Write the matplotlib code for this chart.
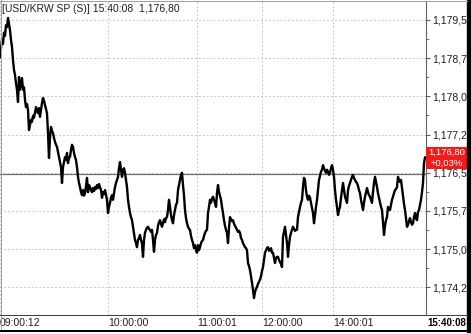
import matplotlib
matplotlib.use("Agg")
import matplotlib.pyplot as plt
import matplotlib.transforms as mtransforms
from matplotlib.lines import Line2D
from matplotlib.patches import Rectangle

plt.rcParams["font.family"] = ["Liberation Sans", "DejaVu Sans"]
plt.rcParams["font.size"] = 7.5

W, H = 471, 334

# tick-by-tick price, one value per chart column
price = [
    1178.77, 1178.95, 1179.11, 1179.03, 1179.25, 1179.19, 1179.40, 1179.36, 1179.54, 1179.42,
    1179.30, 1179.11, 1178.97, 1178.71, 1178.52, 1178.42, 1178.26, 1178.13, 1177.89, 1178.38,
    1178.13, 1178.24, 1178.36, 1178.13, 1178.18, 1177.93, 1177.79, 1177.85, 1177.73, 1177.34,
    1177.44, 1177.54, 1177.50, 1177.62, 1177.58, 1177.69, 1177.79, 1177.71, 1177.67, 1177.77,
    1177.60, 1177.73, 1177.87, 1177.97, 1177.91, 1177.83, 1177.75, 1177.67, 1177.28, 1176.79,
    1177.20, 1177.40, 1177.32, 1177.28, 1177.18, 1177.11, 1177.05, 1177.01, 1176.91, 1176.81,
    1176.71, 1176.61, 1176.30, 1176.61, 1176.71, 1176.81, 1176.75, 1176.89, 1176.69, 1176.79,
    1176.81, 1176.95, 1177.05, 1177.01, 1176.89, 1176.81, 1176.75, 1176.61, 1176.42, 1176.30,
    1176.22, 1176.12, 1176.06, 1176.16, 1176.05, 1176.10, 1176.24, 1176.40, 1176.12, 1176.26,
    1176.22, 1176.16, 1176.12, 1176.20, 1176.14, 1176.22, 1176.18, 1176.26, 1176.20, 1176.28,
    1176.22, 1176.16, 1176.01, 1176.12, 1176.08, 1176.16, 1176.06, 1175.97, 1175.71, 1175.83,
    1175.91, 1176.01, 1176.06, 1175.97, 1176.10, 1176.22, 1176.30, 1176.36, 1176.42, 1176.59,
    1176.71, 1176.56, 1176.42, 1176.56, 1176.59, 1176.50, 1176.36, 1176.22, 1175.97, 1175.83,
    1175.71, 1175.63, 1175.57, 1175.44, 1175.32, 1175.18, 1175.12, 1175.04, 1175.18, 1175.22,
    1175.28, 1175.18, 1175.12, 1174.85, 1175.18, 1175.32, 1175.38, 1175.42, 1175.44, 1175.40,
    1175.38, 1175.34, 1175.38, 1175.18, 1174.95, 1175.18, 1175.28, 1175.32, 1175.46, 1175.53,
    1175.57, 1175.50, 1175.44, 1175.51, 1175.59, 1175.53, 1175.61, 1175.63, 1175.77, 1175.97,
    1175.83, 1175.67, 1175.57, 1175.51, 1175.67, 1175.77, 1175.87, 1175.91, 1176.16, 1176.26,
    1176.36, 1176.46, 1176.50, 1176.26, 1176.06, 1175.77, 1175.61, 1175.51, 1175.44, 1175.40,
    1175.38, 1175.26, 1175.18, 1175.12, 1175.02, 1175.08, 1174.98, 1174.93, 1175.08, 1174.98,
    1175.04, 1175.12, 1175.16, 1175.18, 1175.26, 1175.32, 1175.36, 1175.38, 1175.71, 1175.83,
    1175.97, 1175.91, 1175.99, 1176.03, 1175.97, 1175.91, 1175.83, 1176.10, 1176.26, 1176.12,
    1176.05, 1175.97, 1175.83, 1175.71, 1175.57, 1175.46, 1175.38, 1175.32, 1175.12, 1175.42,
    1175.63, 1175.59, 1175.55, 1175.57, 1175.50, 1175.46, 1175.42, 1175.38, 1175.34, 1175.36,
    1175.32, 1175.22, 1175.18, 1175.12, 1175.08, 1175.04, 1175.02, 1174.98, 1174.73, 1174.67,
    1174.59, 1174.47, 1174.34, 1174.20, 1174.04, 1174.16, 1174.22, 1174.26, 1174.32, 1174.36,
    1174.40, 1174.47, 1174.57, 1174.65, 1174.79, 1174.93, 1174.98, 1175.02, 1175.04, 1174.97,
    1174.98, 1175.02, 1174.93, 1174.93, 1174.83, 1174.73, 1174.83, 1174.85, 1174.85, 1174.79,
    1174.75, 1174.71, 1174.65, 1175.24, 1175.34, 1175.44, 1175.28, 1175.12, 1174.85, 1175.08,
    1175.24, 1175.32, 1175.38, 1175.44, 1175.40, 1175.36, 1175.38, 1175.38, 1175.63, 1175.73,
    1175.83, 1175.91, 1175.97, 1176.22, 1176.40, 1176.36, 1176.16, 1176.03, 1175.97, 1176.05,
    1176.01, 1175.91, 1175.81, 1175.71, 1175.51, 1175.67, 1175.83, 1175.97, 1176.16, 1176.36,
    1176.44, 1176.52, 1176.56, 1176.65, 1176.59, 1176.54, 1176.50, 1176.56, 1176.52, 1176.46,
    1176.50, 1176.59, 1176.65, 1176.56, 1176.42, 1176.16, 1175.97, 1175.83, 1175.67, 1175.77,
    1175.83, 1176.01, 1176.16, 1176.30, 1176.16, 1176.03, 1175.97, 1175.91, 1176.16, 1176.24,
    1176.30, 1176.36, 1176.42, 1176.46, 1176.40, 1176.36, 1176.32, 1176.30, 1176.24, 1176.16,
    1176.10, 1175.97, 1175.87, 1175.77, 1175.91, 1176.03, 1176.12, 1176.20, 1176.12, 1176.06,
    1176.03, 1175.97, 1175.91, 1176.12, 1176.30, 1176.42, 1176.32, 1176.22, 1176.10, 1176.01,
    1175.91, 1175.83, 1175.77, 1175.53, 1175.28, 1175.46, 1175.57, 1175.63, 1175.83, 1175.79,
    1175.77, 1175.87, 1175.97, 1176.03, 1176.10, 1176.16, 1176.18, 1176.22, 1176.42, 1176.36,
    1176.32, 1176.36, 1176.20, 1176.03, 1175.89, 1175.77, 1175.61, 1175.44, 1175.48, 1175.55,
    1175.61, 1175.53, 1175.48, 1175.51, 1175.63, 1175.71, 1175.61, 1175.57, 1175.73, 1175.77,
    1175.87, 1175.97, 1176.12, 1176.30, 1176.69, 1176.80,
]
prev_close = 1176.48

symbol = "USD/KRW SP (S)"
last_time = "15:40:08"
time_ticks = [0, 108, 197, 262, 333]
time_labels = ["09:00:12", "10:00:00", "11:00:01", "12:00:00", "14:00:01"]
y_levels = [1174.25, 1175.00, 1175.75, 1176.50, 1177.25, 1178.00, 1178.75, 1179.50]


def fmt(v):
    return f"{v:,.2f}".replace(".", ",")


def fx(px):
    return px / W


def fy(py):
    return 1 - py / H


fig = plt.figure(figsize=(W / 100, H / 100), dpi=100)
fig.patch.set_facecolor("white")

ax = fig.add_axes([fx(0), fy(315), fx(425.5), fy(1) - fy(315)])
ax.set_xlim(0, 425.5)
ax.set_ylim(1173.708, 1179.873)

ax.plot(range(len(price)), price, color="black", lw=1.7, zorder=3)
ax.axhline(prev_close, color="#707070", lw=0.9, zorder=2)

ax.yaxis.tick_right()
ax.set_yticks(y_levels)
ax.set_yticklabels([fmt(v) for v in y_levels])
ax.set_yticks([a + 0.375 for a in y_levels[:-1]], minor=True)
ax.set_xticks(time_ticks)
ax.set_xticklabels(time_labels, ha="left")
ax.grid(True, which="major", color="#c8c8c8", ls=(0, (2, 2)), lw=0.7)
ax.tick_params(axis="y", which="major", length=3, pad=2, color="#606060", labelcolor="#202020")
ax.tick_params(axis="y", which="minor", length=2, color="#606060")
ax.tick_params(axis="x", length=0, pad=2.5, labelcolor="#202020")
for side in ["left", "top", "bottom"]:
    ax.spines[side].set_visible(False)
ax.spines["right"].set_color("#606060")
ax.spines["right"].set_linewidth(0.8)

# last price tag
last = price[-1]
pct = (last - prev_close) / prev_close * 100
tag = mtransforms.blended_transform_factory(ax.transAxes, ax.transData)
half_h = 11 / 50.93
ax.add_patch(Rectangle((1.0, last - half_h), 41.5 / 425.5, 2 * half_h, transform=tag,
                       facecolor="#f01c1c", edgecolor="none", clip_on=False, zorder=5))
ax.text(1.0 + 20.75 / 425.5, last + 0.1, fmt(last), transform=tag, color="white",
        fontsize=6.8, ha="center", va="center", clip_on=False, zorder=6)
ax.text(1.0 + 20.75 / 425.5, last - 0.115, f"{pct:+.2f}%".replace(".", ","), transform=tag,
        color="white", fontsize=6.8, ha="center", va="center", clip_on=False, zorder=6)

fig.text(fx(2), fy(9), f"[{symbol}] {last_time}  {fmt(last)}", va="center", ha="left",
         color="#202020")
fig.text(fx(427), fy(322.5), last_time, va="center", ha="left", weight="bold",
         fontsize=7, color="black")

# window frame
frame = [
    ([0, 467], [0.5, 0.5], "#a0a0a0", 1),
    ([0.5, 0.5], [0, 331], "#a0a0a0", 1),
    ([0, 467], [315, 315], "#404040", 1),
    ([0, 471], [331, 331], "black", 2),
]
for xs, ys, c, lw in frame:
    fig.add_artist(Line2D([fx(x) for x in xs], [fy(y) for y in ys], color=c,
                          lw=lw * 0.72, transform=fig.transFigure))
fig.add_artist(Rectangle((fx(467), fy(332)), fx(4), fy(0) - fy(332), color="black",
                         transform=fig.transFigure))

fig.savefig("out.png", dpi=100)
